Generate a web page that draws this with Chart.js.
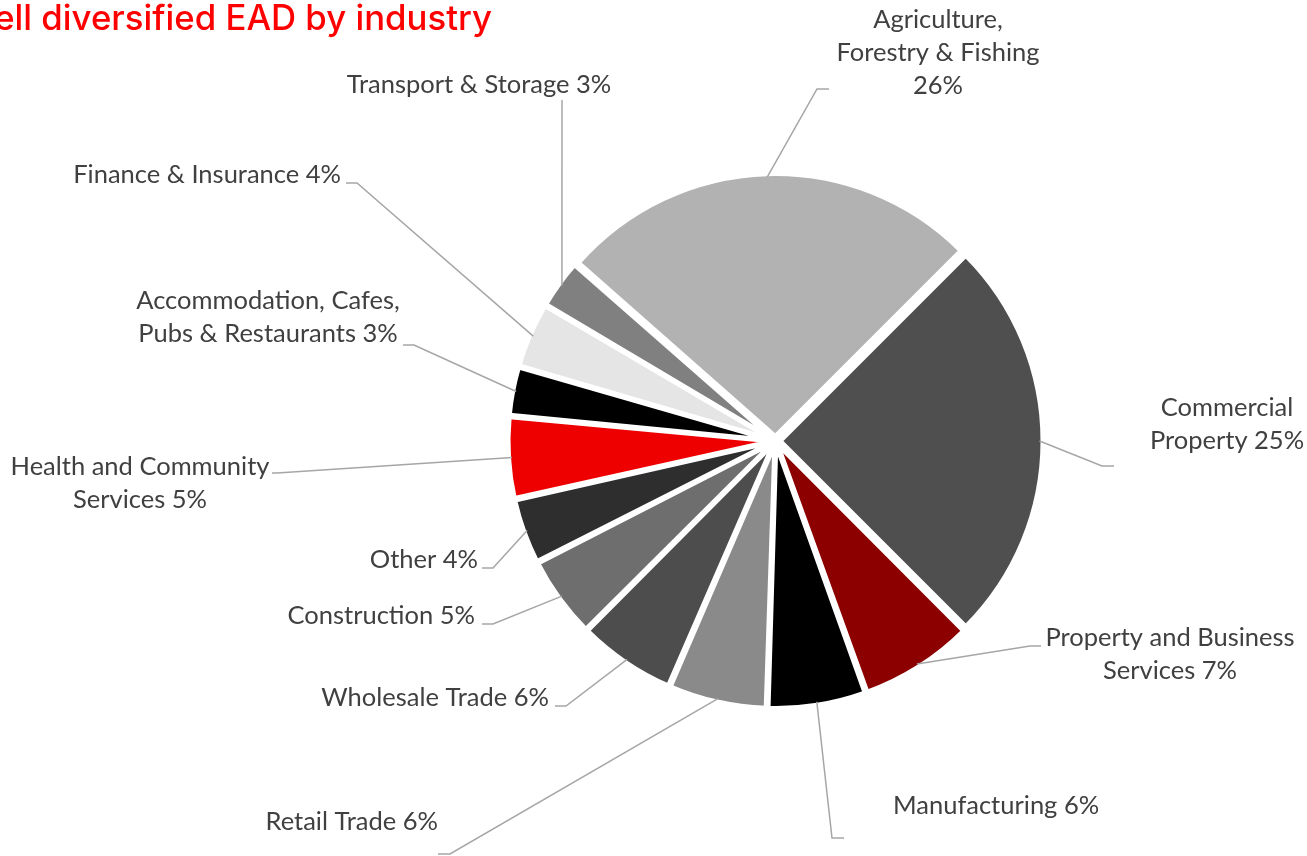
<!DOCTYPE html>
<html><head><meta charset="utf-8">
<script src="https://cdn.jsdelivr.net/npm/chart.js@4.4.0/dist/chart.umd.min.js"></script>
<style>html,body{margin:0;padding:0;background:#fff;overflow:hidden}#wrap{position:relative;width:1307px;height:856px}</style>
</head><body><div id="wrap"><canvas id="c" width="1307" height="856"></canvas></div>
<script>
// ---- data ----
const categories = [
  "Agriculture,\nForestry & Fishing",
  "Commercial\nProperty",
  "Property and Business\nServices",
  "Manufacturing",
  "Retail Trade",
  "Wholesale Trade",
  "Construction",
  "Other",
  "Health and Community\nServices",
  "Accommodation, Cafes,\nPubs & Restaurants",
  "Finance & Insurance",
  "Transport & Storage"
];
const shares = [26, 25, 7, 6, 6, 6, 5, 4, 5, 3, 4, 3];
const sliceColors = ["#b2b2b2", "#4f4f4f", "#8c0000", "#000000", "#8a8a8a", "#4d4d4d",
                     "#6e6e6e", "#2e2e2e", "#ee0000", "#000000", "#e5e5e5", "#808080"];
const titleText = "Well diversified EAD by industry";

// ---- label layout (text anchor, elbow and end of leader line) ----
const labelLayout = [
  {x: 938,  y: 20,  align: "center", pctLine: true,  elbow: [817, 89],  end: [829, 89]},
  {x: 1227, y: 408, align: "center", pctLine: false, elbow: [1102, 466], end: [1114, 466]},
  {x: 1170, y: 638, align: "center", pctLine: false, elbow: [1030, 646], end: [1041, 646]},
  {x: 893,  y: 806, align: "left",   pctLine: false, elbow: [832, 838], end: [844, 838]},
  {x: 438,  y: 822, align: "right",  pctLine: false, elbow: [450, 854], end: [438, 854]},
  {x: 549,  y: 698, align: "right",  pctLine: false, elbow: [566, 706], end: [555, 706]},
  {x: 475,  y: 616, align: "right",  pctLine: false, elbow: [493, 624], end: [482, 624]},
  {x: 478,  y: 560, align: "right",  pctLine: false, elbow: [493, 568], end: [482, 568]},
  {x: 140,  y: 467, align: "center", pctLine: false, elbow: [277, 473], end: [272, 473]},
  {x: 268,  y: 301, align: "center", pctLine: false, elbow: [414, 345], end: [403, 345]},
  {x: 341,  y: 175, align: "right",  pctLine: false, elbow: [357, 183], end: [346, 183]},
  {x: 479,  y: 85,  align: "center", pctLine: false, elbow: [562, 100], end: [562, 100]}
];

const RADIUS = 262, BORDER = 4, OFFSET = 20;
const LABEL_FONT = "25.5px Lato";
const LINE_H = 33;

const radiusFix = {
  id: "radiusFix",
  afterDatasetsUpdate(chart) {
    const meta = chart.getDatasetMeta(0);
    meta.data.forEach(arc => {
      const circ = arc.endAngle - arc.startAngle;
      const o = (arc.options.offset || 0) / 4;
      const fix = 1 - Math.sin(Math.min(Math.PI, circ));
      arc.outerRadius = RADIUS - o * fix;
    });
  }
};

const labels = {
  id: "outLabels",
  afterDatasetsDraw(chart) {
    const ctx = chart.ctx;
    const meta = chart.getDatasetMeta(0);
    ctx.save();
    meta.data.forEach((arc, i) => {
      const L = labelLayout[i];
      const mid = (arc.startAngle + arc.endAngle) / 2;
      const r = RADIUS - BORDER / 2 + OFFSET / 4 - 1;
      const sx = arc.x + Math.cos(mid) * r, sy = arc.y + Math.sin(mid) * r;
      ctx.strokeStyle = "#a6a6a6";
      ctx.lineWidth = 1.5;
      ctx.beginPath();
      ctx.moveTo(sx, sy);
      ctx.lineTo(L.elbow[0], L.elbow[1]);
      ctx.lineTo(L.end[0], L.end[1]);
      ctx.stroke();
      let lines = categories[i].split("\n");
      const pct = shares[i] + "%";
      if (L.pctLine) lines.push(pct); else lines[lines.length - 1] += " " + pct;
      ctx.fillStyle = "#404040";
      ctx.font = LABEL_FONT;
      ctx.textAlign = L.align;
      ctx.textBaseline = "middle";
      lines.forEach((t, k) => ctx.fillText(t, L.x, L.y + k * LINE_H));
    });
    // title (its first letter runs off the left edge, as in the source slide)
    ctx.font = "500 100px Inter";
    const w = ctx.measureText(titleText.slice(1)).width;
    const size = 498 / w * 100;
    ctx.font = "500 " + size.toFixed(2) + "px Inter";
    ctx.fillStyle = "#ff0000";
    ctx.textAlign = "right";
    ctx.textBaseline = "alphabetic";
    ctx.fillText(titleText, 492, 30);
    ctx.restore();
  }
};

new Chart(document.getElementById("c"), {
  type: "pie",
  data: {
    labels: categories,
    datasets: [{
      data: shares,
      backgroundColor: sliceColors,
      borderColor: "#ffffff",
      borderWidth: BORDER,
      offset: OFFSET
    }]
  },
  options: {
    responsive: false,
    animation: false,
    radius: RADIUS,
    rotation: -48.6,
    layout: {padding: {left: 244, top: 26, right: 0, bottom: 0}},
    plugins: {legend: {display: false}, tooltip: {enabled: false}}
  },
  plugins: [radiusFix, labels]
});
</script>
</body></html>
